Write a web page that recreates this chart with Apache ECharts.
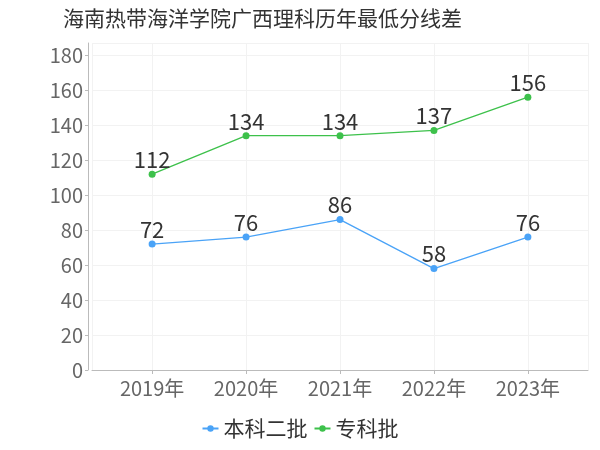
<!DOCTYPE html>
<html><head><meta charset="utf-8">
<script src="https://cdn.jsdelivr.net/npm/echarts@6/dist/echarts.min.js"></script>
<style>html,body{margin:0;padding:0;background:#fff}#c{width:600px;height:450px}</style>
</head><body><div id="c"></div>
<script>
var categories = ['2019年','2020年','2021年','2022年','2023年'];
var benke2 = [72, 76, 86, 58, 76];
var zhuanke = [112, 134, 134, 137, 156];
var seriesNames = ['本科二批','专科批'];
function pairs(vals){ return categories.map(function(c,i){ return [i, vals[i]]; }); }
var chart = echarts.init(document.getElementById('c'));
var font = '"Noto Sans CJK SC", sans-serif';
chart.setOption({
  backgroundColor:'#fff',
  textStyle:{fontFamily:font},
  title:{text:'海南热带海洋学院广西理科历年最低分线差',left:58,top:3,
    textStyle:{fontSize:21,fontWeight:'normal',color:'#333',fontFamily:font}},
  legend:{bottom:6,left:'center',itemWidth:16,itemHeight:8,itemGap:6,
    textStyle:{fontSize:21,color:'#333',fontFamily:font},data:seriesNames},
  grid:{left:92,right:12,top:43,bottom:80},
  xAxis:{type:'value',min:-0.64,max:4.64,minInterval:1,maxInterval:1,
    axisLine:{show:true,onZero:false,lineStyle:{color:'#bbb'}},
    axisTick:{show:true,length:4,lineStyle:{color:'#bbb'}},
    splitLine:{show:true,lineStyle:{color:'#f2f2f2'}},
    axisLabel:{fontSize:20,color:'#666',margin:8,fontFamily:font,
      showMinLabel:false,showMaxLabel:false,
      formatter:function(v){ return (Math.abs(v-Math.round(v))<1e-6 && categories[Math.round(v)]) ? categories[Math.round(v)] : ''; }}},
  yAxis:{type:'value',min:0,max:187,interval:20,offset:4,
    axisLine:{show:true,onZero:false,lineStyle:{color:'#bbb'}},
    axisTick:{show:true,length:3,lineStyle:{color:'#bbb'}},
    splitLine:{show:true,lineStyle:{color:'#f2f2f2'}},
    axisLabel:{fontSize:20,color:'#666',margin:5,fontFamily:font,showMaxLabel:false}},
  series:[
    {name:seriesNames[0],type:'line',data:pairs(benke2),symbol:'circle',symbolSize:7,
     itemStyle:{color:'#4aa3f7'},lineStyle:{width:1.3,color:'#4aa3f7'},
     label:{show:true,position:'top',fontSize:22,color:'#333',distance:0,fontFamily:font,
       formatter:function(p){return p.value[1];}}},
    {name:seriesNames[1],type:'line',data:pairs(zhuanke),symbol:'circle',symbolSize:7,
     itemStyle:{color:'#3dc14b'},lineStyle:{width:1.3,color:'#3dc14b'},
     label:{show:true,position:'top',fontSize:22,color:'#333',distance:0,fontFamily:font,
       formatter:function(p){return p.value[1];}}}
  ]
});
</script></body></html>
